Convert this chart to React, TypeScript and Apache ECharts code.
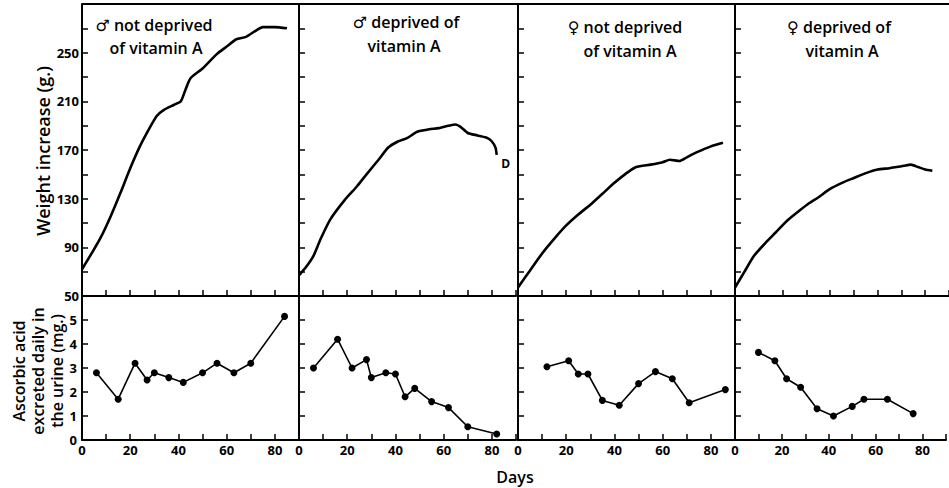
import React, { useEffect, useRef } from "react";
import * as echarts from "echarts";

const panelTitles: string[][] = [
  ["♂ not deprived", "of vitamin A"],
  ["♂ deprived of", "vitamin A"],
  ["♀ not deprived", "of vitamin A"],
  ["♀ deprived of", "vitamin A"],
];

const dayTicks = [0, 20, 40, 60, 80];
const weightTicks = [50, 90, 130, 170, 210, 250];
const acidTicks = [0, 1, 2, 3, 4, 5];

const weightMaleNotDeprived: number[][] = [
  [0, 72], [4, 85], [8, 99], [12, 116], [16, 135], [20, 155], [24, 173], [28, 188],
  [31, 198], [34, 203], [38, 207], [41, 210], [43, 220], [45, 229], [50, 237],
  [56, 249], [60, 255], [64, 261], [68, 263], [72, 268], [75, 271], [80, 271], [85, 270],
];
const weightMaleDeprived: number[][] = [
  [0, 67], [3, 74], [6, 83], [9, 97], [13, 113], [19, 129], [24, 140], [28, 150],
  [33, 162], [37, 172], [41, 177], [45, 180], [49, 185], [54, 187], [58, 188],
  [62, 190], [65, 191], [67, 189], [70, 184], [74, 182], [78, 180], [80, 177],
  [81.5, 172], [82, 166],
];
const weightFemaleNotDeprived: number[][] = [
  [0, 57], [5, 71], [10, 85], [15, 97], [20, 108], [25, 117], [30, 125], [35, 134],
  [40, 143], [45, 151], [49, 156], [55, 158], [60, 160], [63, 162], [67, 161],
  [70, 164], [74, 168], [80, 173], [85, 176],
];
const weightFemaleDeprived: number[][] = [
  [0, 57], [4, 70], [8, 83], [13, 94], [17, 102], [22, 112], [27, 120], [31, 126],
  [35, 131], [40, 138], [45, 143], [50, 147], [55, 151], [60, 154], [65, 155],
  [68, 156], [71, 157], [74, 158], [77, 156], [80, 154], [83, 153],
];

const acidMaleNotDeprived: number[][] = [
  [6, 2.8], [15, 1.7], [22, 3.2], [27, 2.5], [30, 2.8], [36, 2.6], [42, 2.4],
  [50, 2.8], [56, 3.2], [63, 2.8], [70, 3.2], [84, 5.15],
];
const acidMaleDeprived: number[][] = [
  [6, 3.0], [16, 4.2], [22, 3.0], [28, 3.35], [30, 2.6], [36, 2.8], [40, 2.75],
  [44, 1.8], [48, 2.15], [55, 1.6], [62, 1.35], [70, 0.55], [82, 0.25],
];
const acidFemaleNotDeprived: number[][] = [
  [12, 3.05], [21, 3.3], [25, 2.75], [29, 2.75], [35, 1.65], [42, 1.45], [50, 2.35],
  [57, 2.85], [64, 2.55], [71, 1.55], [86, 2.1],
];
const acidFemaleDeprived: number[][] = [
  [10, 3.65], [17, 3.3], [22, 2.55], [28, 2.2], [35, 1.3], [42, 1.0], [50, 1.4],
  [55, 1.7], [65, 1.7], [76, 1.1],
];

const weightSeries = [weightMaleNotDeprived, weightMaleDeprived, weightFemaleNotDeprived, weightFemaleDeprived];
const acidSeries = [acidMaleNotDeprived, acidMaleDeprived, acidFemaleNotDeprived, acidFemaleDeprived];

const FONT = "'Open Sans', 'DejaVu Sans', sans-serif";

export default function App() {
  const ref = useRef<HTMLDivElement>(null);
  useEffect(() => {
    if (!ref.current) return;
    const chart = echarts.init(ref.current, undefined, { renderer: "svg" });
    const lefts = [82, 299, 518, 735];
    const W = 217;
    const grids: any[] = [];
    const xAxes: any[] = [];
    const yAxes: any[] = [];
    const series: any[] = [];
    const axisLine = { show: true, lineStyle: { color: "#000", width: 2 } };
    const axisTick = { show: true, inside: true, length: 6, lineStyle: { color: "#000", width: 1.5 } };
    const labelStyle = { color: "#000", fontSize: 13, fontWeight: "bold", fontFamily: FONT };
    for (let row = 0; row < 2; row++) {
      for (let c = 0; c < 4; c++) {
        const gi = row * 4 + c;
        grids.push({
          left: lefts[c], width: W,
          top: row === 0 ? 4 : 296,
          height: row === 0 ? 292 : 144,
          containLabel: false,
        });
        xAxes.push({
          type: "value", gridIndex: gi, min: 0, max: 90, interval: 10,
          axisLine, axisTick, splitLine: { show: false },
          axisLabel: {
            show: row === 1, ...labelStyle, margin: 3,
            formatter: (v: number) => (dayTicks.includes(v) ? String(v) : ""),
          },
        });
        yAxes.push(row === 0
          ? {
              type: "value", gridIndex: gi, min: 50, max: 290, interval: 20,
              axisLine, axisTick, splitLine: { show: false },
              axisLabel: {
                show: c === 0, ...labelStyle, margin: 3,
                formatter: (v: number) => (weightTicks.includes(v) ? String(v) : ""),
              },
            }
          : {
              type: "value", gridIndex: gi, min: 0, max: 6, interval: 1,
              axisLine, axisTick, splitLine: { show: false },
              axisLabel: {
                show: c === 0, ...labelStyle, margin: 5,
                formatter: (v: number) => (acidTicks.includes(v) ? String(v) : ""),
              },
            });
        if (row === 0) {
          const s: any = {
            type: "line", xAxisIndex: gi, yAxisIndex: gi, data: weightSeries[c],
            showSymbol: false, smooth: 0.2,
            lineStyle: { color: "#000", width: 2.6 },
          };
          if (c === 1) {
            const last = weightSeries[c][weightSeries[c].length - 1];
            s.markPoint = {
              symbol: "circle", symbolSize: 1,
              itemStyle: { color: "rgba(0,0,0,0)" },
              label: {
                show: true, formatter: "D", position: "right", offset: [-1, 9],
                color: "#000", fontSize: 12, fontWeight: "bold", fontFamily: FONT,
              },
              data: [{ coord: last }],
            };
          }
          series.push(s);
        } else {
          series.push({
            type: "line", xAxisIndex: gi, yAxisIndex: gi, data: acidSeries[c],
            symbol: "circle", symbolSize: 7,
            itemStyle: { color: "#000" },
            lineStyle: { color: "#000", width: 1.6 },
          });
        }
      }
    }
    const titlePos = [
      [[154, 25], [156, 48]],
      [[406, 22], [404, 46]],
      [[625, 27], [630, 51]],
      [[839, 27], [842, 51]],
    ];
    const graphics: any[] = [
      { type: "line", shape: { x1: 82, y1: 4, x2: 949, y2: 4 }, style: { stroke: "#000", lineWidth: 2 } },
      {
        type: "text", x: 43, y: 151, rotation: Math.PI / 2,
        style: { text: "Weight increase (g.)", font: `600 18px ${FONT}`, fill: "#000", textAlign: "center", textVerticalAlign: "middle" },
      },
      {
        type: "text", x: 38, y: 371, rotation: Math.PI / 2,
        style: {
          text: "Ascorbic acid\nexcreted daily in\nthe urine (mg.)", font: `600 16px ${FONT}`, fill: "#000",
          textAlign: "center", textVerticalAlign: "middle", lineHeight: 19,
        },
      },
      {
        type: "text", x: 515, y: 477,
        style: { text: "Days", font: `600 16px ${FONT}`, fill: "#000", textAlign: "center", textVerticalAlign: "middle" },
      },
    ];
    panelTitles.forEach((lines, c) => {
      lines.forEach((t, li) => {
        graphics.push({
          type: "text", x: titlePos[c][li][0], y: titlePos[c][li][1],
          style: { text: t, font: `600 16px ${FONT}`, fill: "#000", textAlign: "center", textVerticalAlign: "middle" },
        });
      });
    });
    chart.setOption({
      animation: false,
      backgroundColor: "#fff",
      grid: grids, xAxis: xAxes, yAxis: yAxes, series, graphic: graphics,
    });
    return () => chart.dispose();
  }, []);
  return <div ref={ref} style={{ position: "fixed", left: 0, top: 0, width: 949, height: 488 }} />;
}
